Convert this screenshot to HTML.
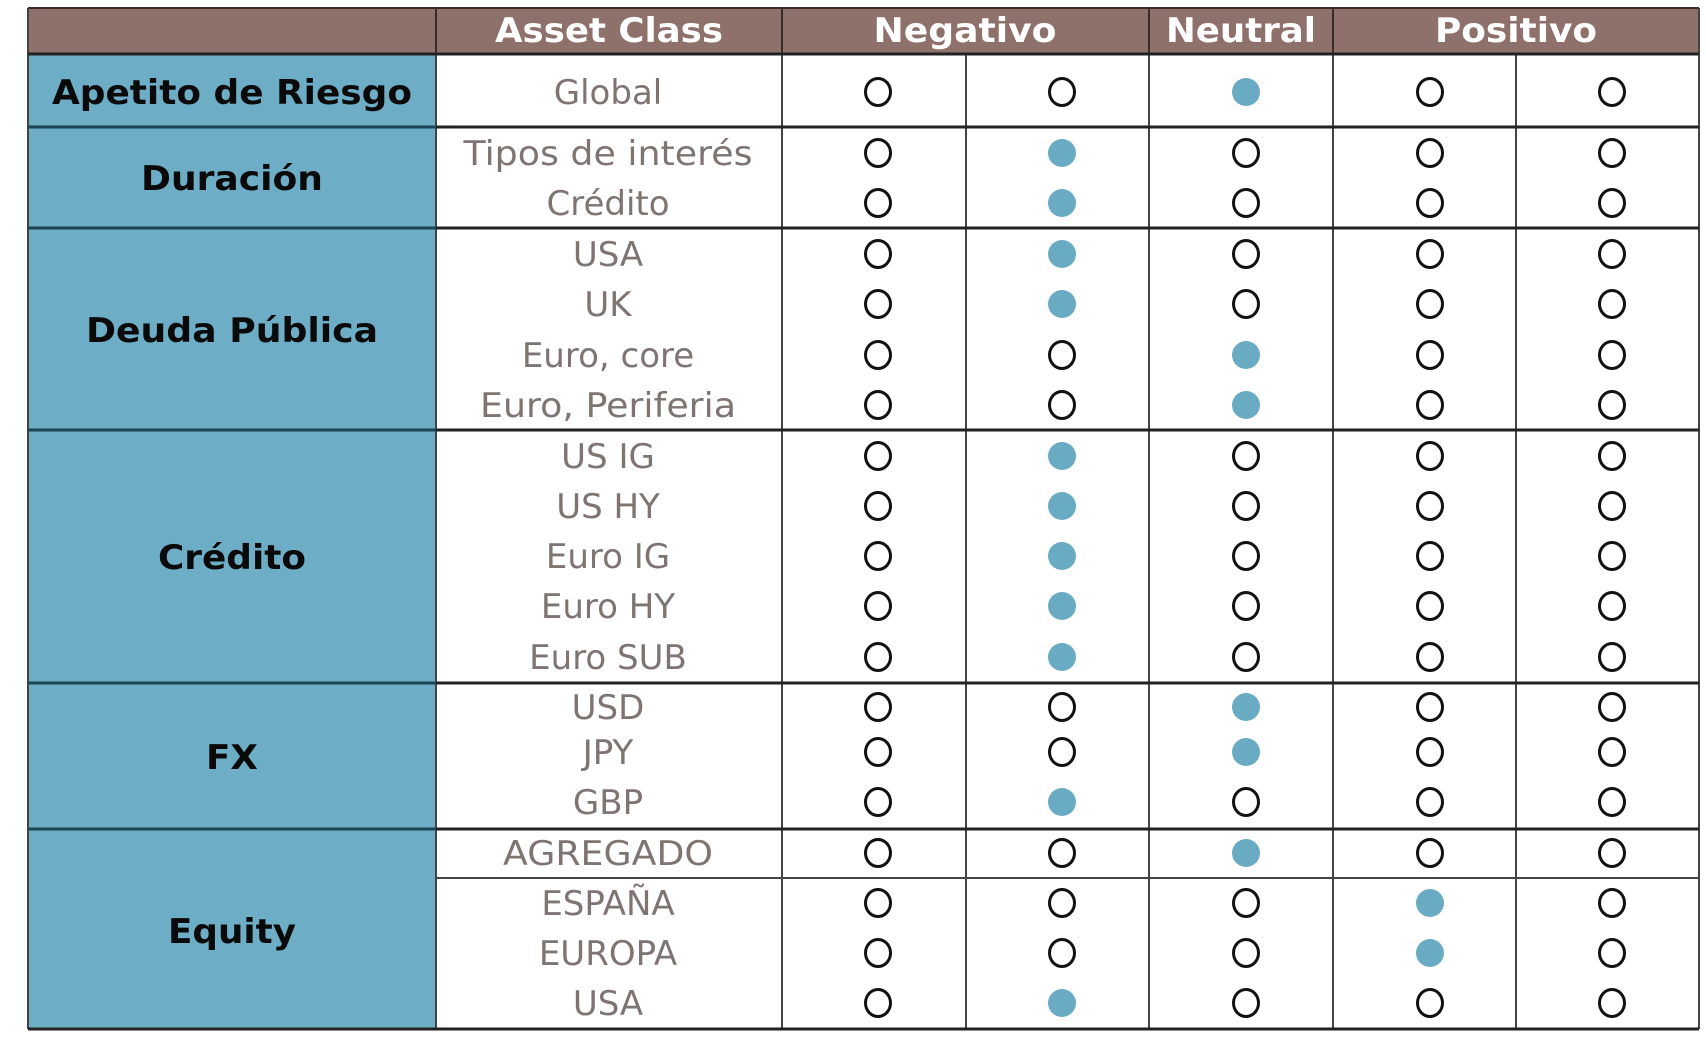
<!DOCTYPE html>
<html><head><meta charset="utf-8"><style>
html,body{margin:0;padding:0;background:#fff;}
svg{display:block;}
.h{font-family:"DejaVu Sans","Liberation Sans",sans-serif;font-weight:bold;font-size:34px;fill:#fff;text-anchor:middle;}
.c{font-family:"DejaVu Sans","Liberation Sans",sans-serif;font-weight:bold;font-size:34px;fill:#0a0a0a;text-anchor:middle;}
.a{font-family:"DejaVu Sans","Liberation Sans",sans-serif;font-size:34px;fill:#7e7471;text-anchor:middle;}
</style></head><body>
<svg width="1706" height="1046" viewBox="0 0 1706 1046" xmlns="http://www.w3.org/2000/svg">
<rect x="0" y="0" width="1706" height="1046" fill="#fff"/>
<rect x="28" y="8" width="1671" height="46" fill="#8f716b"/>
<rect x="28" y="54" width="408" height="975" fill="#6dadc5"/>
<text class="h" x="609" y="42" textLength="228" lengthAdjust="spacingAndGlyphs">Asset Class</text>
<text class="h" x="965" y="42" textLength="183" lengthAdjust="spacingAndGlyphs">Negativo</text>
<text class="h" x="1241" y="42" textLength="150" lengthAdjust="spacingAndGlyphs">Neutral</text>
<text class="h" x="1516" y="42" textLength="162" lengthAdjust="spacingAndGlyphs">Positivo</text>
<g stroke="#3a2a28" stroke-width="2">
<line x1="28" y1="8" x2="1699" y2="8"/>
<line x1="436" y1="8" x2="436" y2="54"/>
<line x1="782" y1="8" x2="782" y2="54"/>
<line x1="1149" y1="8" x2="1149" y2="54"/>
<line x1="1333" y1="8" x2="1333" y2="54"/>
</g>
<g stroke="#444" stroke-width="2">
<line x1="782" y1="54" x2="782" y2="1029"/>
<line x1="966" y1="54" x2="966" y2="1029"/>
<line x1="1149" y1="54" x2="1149" y2="1029"/>
<line x1="1333" y1="54" x2="1333" y2="1029"/>
<line x1="1516" y1="54" x2="1516" y2="1029"/>
<line x1="1699" y1="8" x2="1699" y2="1029"/>
<line x1="436" y1="54" x2="436" y2="1029"/>
<line x1="28" y1="8" x2="28" y2="1029"/>
<line x1="436" y1="878" x2="1699" y2="878"/>
</g>
<g stroke="#222" stroke-width="3">
<line x1="28" y1="54" x2="1699" y2="54"/>
<line x1="28" y1="127" x2="1699" y2="127"/>
<line x1="28" y1="228" x2="1699" y2="228"/>
<line x1="28" y1="430" x2="1699" y2="430"/>
<line x1="28" y1="683" x2="1699" y2="683"/>
<line x1="28" y1="829" x2="1699" y2="829"/>
<line x1="28" y1="1029" x2="1699" y2="1029"/>
</g>
<g stroke="#1d4455" stroke-width="3">
<line x1="28" y1="127" x2="436" y2="127"/>
<line x1="28" y1="228" x2="436" y2="228"/>
<line x1="28" y1="430" x2="436" y2="430"/>
<line x1="28" y1="683" x2="436" y2="683"/>
<line x1="28" y1="829" x2="436" y2="829"/>
</g>
<text class="c" x="232" y="104" textLength="360" lengthAdjust="spacingAndGlyphs">Apetito de Riesgo</text>
<text class="c" x="232" y="190" textLength="182" lengthAdjust="spacingAndGlyphs">Duración</text>
<text class="c" x="232" y="342" textLength="292" lengthAdjust="spacingAndGlyphs">Deuda Pública</text>
<text class="c" x="232" y="569" textLength="148" lengthAdjust="spacingAndGlyphs">Crédito</text>
<text class="c" x="232" y="769" textLength="52" lengthAdjust="spacingAndGlyphs">FX</text>
<text class="c" x="232" y="943" textLength="128" lengthAdjust="spacingAndGlyphs">Equity</text>
<text class="a" x="608" y="104">Global</text>
<text class="a" x="608" y="165" textLength="289" lengthAdjust="spacingAndGlyphs">Tipos de interés</text>
<text class="a" x="608" y="215">Crédito</text>
<text class="a" x="608" y="266">USA</text>
<text class="a" x="608" y="316">UK</text>
<text class="a" x="608" y="367">Euro, core</text>
<text class="a" x="608" y="417" textLength="256" lengthAdjust="spacingAndGlyphs">Euro, Periferia</text>
<text class="a" x="608" y="468">US IG</text>
<text class="a" x="608" y="518">US HY</text>
<text class="a" x="608" y="568">Euro IG</text>
<text class="a" x="608" y="618">Euro HY</text>
<text class="a" x="608" y="669">Euro SUB</text>
<text class="a" x="608" y="719">USD</text>
<text class="a" x="608" y="764">JPY</text>
<text class="a" x="608" y="814">GBP</text>
<text class="a" x="608" y="865" textLength="210" lengthAdjust="spacingAndGlyphs">AGREGADO</text>
<text class="a" x="608" y="915">ESPAÑA</text>
<text class="a" x="608" y="965">EUROPA</text>
<text class="a" x="608" y="1015">USA</text>
<!-- filled dots -->
<g fill="#6aabc4">
<ellipse cx="1246" cy="92" rx="14" ry="14"/>
<ellipse cx="1062" cy="153" rx="14" ry="14"/>
<ellipse cx="1062" cy="203" rx="14" ry="14"/>
<ellipse cx="1062" cy="254" rx="14" ry="14"/>
<ellipse cx="1062" cy="304" rx="14" ry="14"/>
<ellipse cx="1246" cy="355" rx="14" ry="14"/>
<ellipse cx="1246" cy="405" rx="14" ry="14"/>
<ellipse cx="1062" cy="456" rx="14" ry="14"/>
<ellipse cx="1062" cy="506" rx="14" ry="14"/>
<ellipse cx="1062" cy="556" rx="14" ry="14"/>
<ellipse cx="1062" cy="606" rx="14" ry="14"/>
<ellipse cx="1062" cy="657" rx="14" ry="14"/>
<ellipse cx="1246" cy="707" rx="14" ry="14"/>
<ellipse cx="1246" cy="752" rx="14" ry="14"/>
<ellipse cx="1062" cy="802" rx="14" ry="14"/>
<ellipse cx="1246" cy="853" rx="14" ry="14"/>
<ellipse cx="1430" cy="903" rx="14" ry="14"/>
<ellipse cx="1430" cy="953" rx="14" ry="14"/>
<ellipse cx="1062" cy="1003" rx="14" ry="14"/>
</g>
<!-- open circles -->
<g fill="none" stroke="#111" stroke-width="3">
<ellipse cx="878" cy="92" rx="12.5" ry="13.5"/><ellipse cx="1062" cy="92" rx="12.5" ry="13.5"/><ellipse cx="1430" cy="92" rx="12.5" ry="13.5"/><ellipse cx="1612" cy="92" rx="12.5" ry="13.5"/>
<ellipse cx="878" cy="153" rx="12.5" ry="13.5"/><ellipse cx="1246" cy="153" rx="12.5" ry="13.5"/><ellipse cx="1430" cy="153" rx="12.5" ry="13.5"/><ellipse cx="1612" cy="153" rx="12.5" ry="13.5"/>
<ellipse cx="878" cy="203" rx="12.5" ry="13.5"/><ellipse cx="1246" cy="203" rx="12.5" ry="13.5"/><ellipse cx="1430" cy="203" rx="12.5" ry="13.5"/><ellipse cx="1612" cy="203" rx="12.5" ry="13.5"/>
<ellipse cx="878" cy="254" rx="12.5" ry="13.5"/><ellipse cx="1246" cy="254" rx="12.5" ry="13.5"/><ellipse cx="1430" cy="254" rx="12.5" ry="13.5"/><ellipse cx="1612" cy="254" rx="12.5" ry="13.5"/>
<ellipse cx="878" cy="304" rx="12.5" ry="13.5"/><ellipse cx="1246" cy="304" rx="12.5" ry="13.5"/><ellipse cx="1430" cy="304" rx="12.5" ry="13.5"/><ellipse cx="1612" cy="304" rx="12.5" ry="13.5"/>
<ellipse cx="878" cy="355" rx="12.5" ry="13.5"/><ellipse cx="1062" cy="355" rx="12.5" ry="13.5"/><ellipse cx="1430" cy="355" rx="12.5" ry="13.5"/><ellipse cx="1612" cy="355" rx="12.5" ry="13.5"/>
<ellipse cx="878" cy="405" rx="12.5" ry="13.5"/><ellipse cx="1062" cy="405" rx="12.5" ry="13.5"/><ellipse cx="1430" cy="405" rx="12.5" ry="13.5"/><ellipse cx="1612" cy="405" rx="12.5" ry="13.5"/>
<ellipse cx="878" cy="456" rx="12.5" ry="13.5"/><ellipse cx="1246" cy="456" rx="12.5" ry="13.5"/><ellipse cx="1430" cy="456" rx="12.5" ry="13.5"/><ellipse cx="1612" cy="456" rx="12.5" ry="13.5"/>
<ellipse cx="878" cy="506" rx="12.5" ry="13.5"/><ellipse cx="1246" cy="506" rx="12.5" ry="13.5"/><ellipse cx="1430" cy="506" rx="12.5" ry="13.5"/><ellipse cx="1612" cy="506" rx="12.5" ry="13.5"/>
<ellipse cx="878" cy="556" rx="12.5" ry="13.5"/><ellipse cx="1246" cy="556" rx="12.5" ry="13.5"/><ellipse cx="1430" cy="556" rx="12.5" ry="13.5"/><ellipse cx="1612" cy="556" rx="12.5" ry="13.5"/>
<ellipse cx="878" cy="606" rx="12.5" ry="13.5"/><ellipse cx="1246" cy="606" rx="12.5" ry="13.5"/><ellipse cx="1430" cy="606" rx="12.5" ry="13.5"/><ellipse cx="1612" cy="606" rx="12.5" ry="13.5"/>
<ellipse cx="878" cy="657" rx="12.5" ry="13.5"/><ellipse cx="1246" cy="657" rx="12.5" ry="13.5"/><ellipse cx="1430" cy="657" rx="12.5" ry="13.5"/><ellipse cx="1612" cy="657" rx="12.5" ry="13.5"/>
<ellipse cx="878" cy="707" rx="12.5" ry="13.5"/><ellipse cx="1062" cy="707" rx="12.5" ry="13.5"/><ellipse cx="1430" cy="707" rx="12.5" ry="13.5"/><ellipse cx="1612" cy="707" rx="12.5" ry="13.5"/>
<ellipse cx="878" cy="752" rx="12.5" ry="13.5"/><ellipse cx="1062" cy="752" rx="12.5" ry="13.5"/><ellipse cx="1430" cy="752" rx="12.5" ry="13.5"/><ellipse cx="1612" cy="752" rx="12.5" ry="13.5"/>
<ellipse cx="878" cy="802" rx="12.5" ry="13.5"/><ellipse cx="1246" cy="802" rx="12.5" ry="13.5"/><ellipse cx="1430" cy="802" rx="12.5" ry="13.5"/><ellipse cx="1612" cy="802" rx="12.5" ry="13.5"/>
<ellipse cx="878" cy="853" rx="12.5" ry="13.5"/><ellipse cx="1062" cy="853" rx="12.5" ry="13.5"/><ellipse cx="1430" cy="853" rx="12.5" ry="13.5"/><ellipse cx="1612" cy="853" rx="12.5" ry="13.5"/>
<ellipse cx="878" cy="903" rx="12.5" ry="13.5"/><ellipse cx="1062" cy="903" rx="12.5" ry="13.5"/><ellipse cx="1246" cy="903" rx="12.5" ry="13.5"/><ellipse cx="1612" cy="903" rx="12.5" ry="13.5"/>
<ellipse cx="878" cy="953" rx="12.5" ry="13.5"/><ellipse cx="1062" cy="953" rx="12.5" ry="13.5"/><ellipse cx="1246" cy="953" rx="12.5" ry="13.5"/><ellipse cx="1612" cy="953" rx="12.5" ry="13.5"/>
<ellipse cx="878" cy="1003" rx="12.5" ry="13.5"/><ellipse cx="1246" cy="1003" rx="12.5" ry="13.5"/><ellipse cx="1430" cy="1003" rx="12.5" ry="13.5"/><ellipse cx="1612" cy="1003" rx="12.5" ry="13.5"/>
</g>
</svg>
</body></html>
